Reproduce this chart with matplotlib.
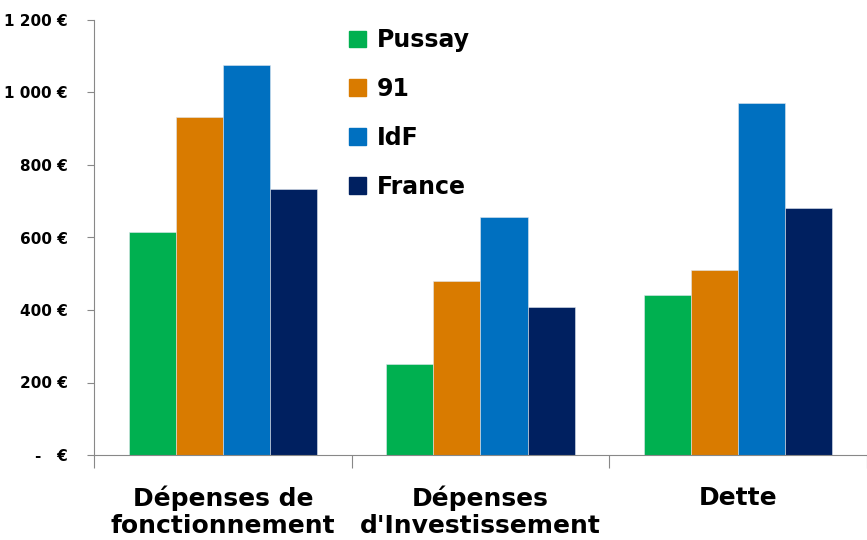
import numpy as np
import matplotlib.pyplot as plt
from matplotlib.patches import Patch

categories = ["Dépenses de\nfonctionnement", "Dépenses\nd'Investissement", "Dette"]
series = ["Pussay", "91", "IdF", "France"]
pussay = [615, 251, 441]
dep91 = [932, 480, 510]
idf = [1076, 657, 971]
france = [734, 408, 681]
yticks = [0, 200, 400, 600, 800, 1000, 1200]
ytick_labels = ["-   €", "200 €", "400 €", "600 €", "800 €", "1 000 €", "1 200 €"]
colors = ["#00B050", "#D97B00", "#0070C0", "#002060"]

plt.rcParams['font.family'] = ['DejaVu Sans']
plt.rcParams['font.weight'] = 'bold'

fig = plt.figure(figsize=(8.67, 5.40), dpi=100)
ax = fig.add_axes([94 / 867, 85 / 540, 1 - 94 / 867, 435 / 540])

x = np.arange(len(categories))
w = 0.183
for i, (vals, c) in enumerate(zip([pussay, dep91, idf, france], colors)):
    ax.bar(x + (i - 1.5) * w, vals, w, color=c, label=series[i],
           edgecolor='#dfe6ee', linewidth=0.4)

ax.set_ylim(0, 1200)
ax.set_xlim(-0.5, -0.5 + 773 / 260.8)
ax.set_yticks(yticks)
ax.set_yticklabels(ytick_labels, fontsize=11, fontweight='bold')
ax.set_xticks([-0.5, 0.5, 1.5, 2.5])
ax.set_xticklabels([])
ax.set_xticks(x, minor=True)
ax.set_xticklabels(categories, minor=True, fontsize=18, fontweight='bold', linespacing=1.15)
ax.tick_params(axis='x', which='major', length=9, color='#888888')
ax.tick_params(axis='x', which='minor', length=0, pad=22)
ax.tick_params(axis='y', length=5, color='#888888', pad=14)

for s in ['top', 'right']:
    ax.spines[s].set_visible(False)
for s in ['left', 'bottom']:
    ax.spines[s].set_color('#888888')

handles = [Patch(color=c) for c in colors]
leg = ax.legend(handles, series, loc='upper left', bbox_to_anchor=(234 / 773, 1.03),
                frameon=False, prop={'size': 17, 'weight': 'bold'},
                handlelength=0.72, handleheight=0.72, handletextpad=0.45, labelspacing=1.05)

fig.savefig("out.png", dpi=100)
